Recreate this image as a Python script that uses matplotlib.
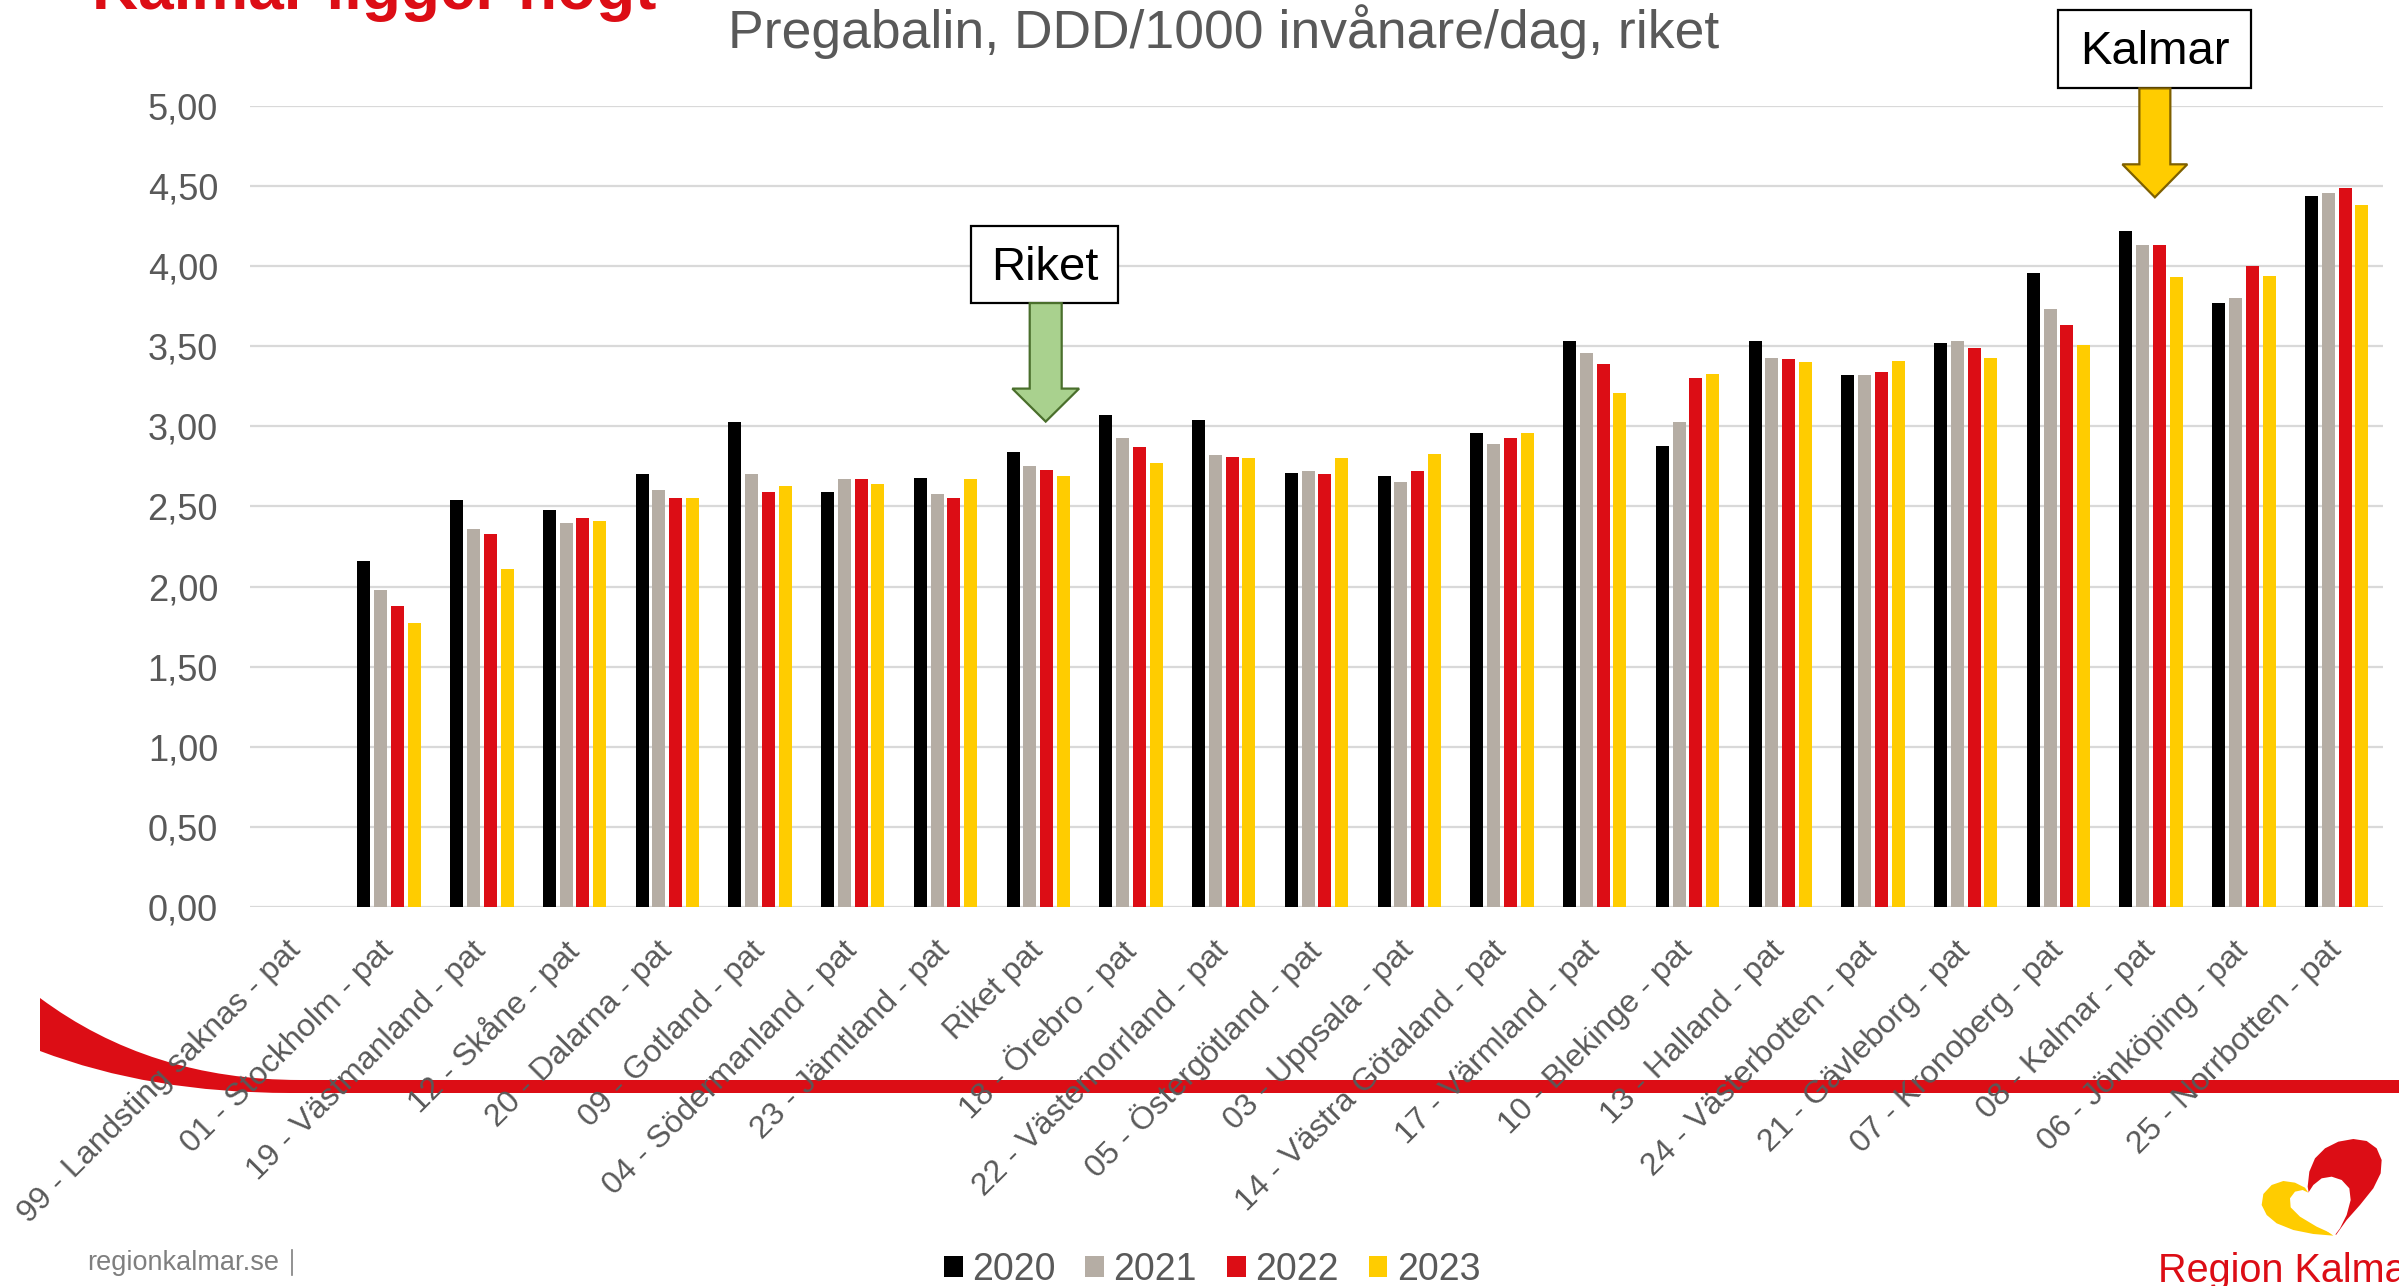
import numpy as np
import matplotlib
matplotlib.use("Agg")
import matplotlib.pyplot as plt
from matplotlib.patches import Rectangle, FancyArrow, PathPatch, Polygon
from matplotlib.path import Path
from matplotlib.lines import Line2D

plt.rcParams['font.family'] = ['Liberation Sans', 'DejaVu Sans']

# data
regions = ['99 - Landsting saknas - pat', '01 - Stockholm - pat', '19 - Västmanland - pat',
           '12 - Skåne - pat', '20 - Dalarna - pat', '09 - Gotland - pat',
           '04 - Södermanland - pat', '23 - Jämtland - pat', 'Riket pat',
           '18 - Örebro - pat', '22 - Västernorrland - pat', '05 - Östergötland - pat',
           '03 - Uppsala - pat', '14 - Västra Götaland - pat', '17 - Värmland - pat',
           '10 - Blekinge - pat', '13 - Halland - pat', '24 - Västerbotten - pat',
           '21 - Gävleborg - pat', '07 - Kronoberg - pat', '08 - Kalmar - pat',
           '06 - Jönköping - pat', '25 - Norrbotten - pat']
years = ['2020', '2021', '2022', '2023']
v2020 = [np.nan, 2.16, 2.54, 2.48, 2.70, 3.03, 2.59, 2.68, 2.84, 3.07, 3.04, 2.71,
         2.69, 2.96, 3.53, 2.88, 3.53, 3.32, 3.52, 3.96, 4.22, 3.77, 4.44]
v2021 = [np.nan, 1.98, 2.36, 2.40, 2.60, 2.70, 2.67, 2.58, 2.75, 2.93, 2.82, 2.72,
         2.65, 2.89, 3.46, 3.03, 3.43, 3.32, 3.53, 3.73, 4.13, 3.80, 4.46]
v2022 = [np.nan, 1.88, 2.33, 2.43, 2.55, 2.59, 2.67, 2.55, 2.73, 2.87, 2.81, 2.70,
         2.72, 2.93, 3.39, 3.30, 3.42, 3.34, 3.49, 3.63, 4.13, 4.00, 4.49]
v2023 = [np.nan, 1.77, 2.11, 2.41, 2.55, 2.63, 2.64, 2.67, 2.69, 2.77, 2.80, 2.80,
         2.83, 2.96, 3.21, 3.33, 3.40, 3.41, 3.43, 3.51, 3.93, 3.94, 4.38]
yticks = [0, 0.5, 1.0, 1.5, 2.0, 2.5, 3.0, 3.5, 4.0, 4.5, 5.0]

colors = ['#000000', '#B5ADA4', '#DC0D15', '#FFCC00']
series = [v2020, v2021, v2022, v2023]
gray_txt = '#595959'

W, H = 2399, 1286
fig = plt.figure(figsize=(W / 100, H / 100), dpi=100)


def fx(px):
    return px / W


def fy(py):
    return 1 - py / H


# red swoosh behind everything
swoosh = Path([(fx(40), fy(998)), (fx(150), fy(1080)), (fx(300), fy(1080)),
               (fx(W + 5), fy(1080)), (fx(W + 5), fy(1093)), (fx(290), fy(1093)),
               (fx(150), fy(1093)), (fx(40), fy(1051)), (fx(40), fy(998))],
              [Path.MOVETO, Path.CURVE3, Path.CURVE3, Path.LINETO, Path.LINETO,
               Path.LINETO, Path.CURVE3, Path.CURVE3, Path.CLOSEPOLY])
fig.patches.append(PathPatch(swoosh, transform=fig.transFigure, facecolor='#DC0D15',
                             edgecolor='none', zorder=-1))

ax = fig.add_axes([fx(250), fy(907), 2133 / W, 801 / H])
ax.patch.set_alpha(0)

x = np.arange(len(regions))
bw = 0.14
step = 0.181
for i, (vals, c, yr) in enumerate(zip(series, colors, years)):
    ax.bar(x + (i - 1.5) * step, vals, width=bw, color=c, label=yr, zorder=3)

ax.set_xlim(-0.5, len(regions) - 0.5)
ax.set_ylim(0, 5)
ax.set_yticks(yticks)
ax.set_yticklabels([f'{t:.2f}'.replace('.', ',') for t in yticks])
ax.grid(axis='y', color='#D9D9D9', linewidth=1.6, zorder=0)
ax.set_axisbelow(True)
for s in ax.spines.values():
    s.set_visible(False)
ax.tick_params(axis='y', length=0, pad=23, labelsize=26, labelcolor=gray_txt)
ax.tick_params(axis='x', length=0, pad=28, labelsize=23, labelcolor=gray_txt)
ax.set_xticks(x)
ax.set_xticklabels(regions, rotation=45, ha='right', va='center', rotation_mode='anchor')

# title texts
fig.text(fx(1224), fy(48), 'Pregabalin, DDD/1000 invånare/dag, riket', ha='center',
         va='baseline', fontsize=38.5, color=gray_txt)
fig.text(fx(92), fy(9), 'Kalmar ligger högt', ha='left', va='baseline', fontsize=46,
         fontweight='bold', color='#DC0D15')

# callouts
ax.add_patch(Rectangle((7.27, 3.77), 1.59, 0.48, facecolor='white', edgecolor='black',
                       linewidth=1.6, zorder=5, clip_on=False))
ax.text(8.07, 3.99, 'Riket', ha='center', va='center', fontsize=34, color='black', zorder=6)
ax.add_patch(FancyArrow(8.08, 3.77, 0, -0.74, width=0.345, head_width=0.72,
                        head_length=0.206, length_includes_head=True,
                        facecolor='#A9D18E', edgecolor='#4A6F2C', linewidth=1.6,
                        zorder=5, clip_on=False))

ax.add_patch(Rectangle((19.0, 5.11), 2.08, 0.49, facecolor='white', edgecolor='black',
                       linewidth=1.6, zorder=5, clip_on=False))
ax.text(20.04, 5.34, 'Kalmar', ha='center', va='center', fontsize=34, color='black', zorder=6)
ax.add_patch(FancyArrow(20.04, 5.11, 0, -0.68, width=0.334, head_width=0.70,
                        head_length=0.206, length_includes_head=True,
                        facecolor='#FFCC00', edgecolor='#7F6000', linewidth=1.6,
                        zorder=5, clip_on=False))

# legend
handles = [Rectangle((0, 0), 1, 1, facecolor=c, edgecolor='none') for c in colors]
fig.legend(handles, years, loc='center', bbox_to_anchor=(fx(1212), fy(1270)), ncol=4,
           frameon=False, fontsize=27, labelcolor=gray_txt, handlelength=0.5,
           handleheight=0.5, handletextpad=0.25, columnspacing=0.8, borderpad=0)

# footer
fig.text(fx(87), fy(1270), 'regionkalmar.se', ha='left', va='baseline', fontsize=19.5,
         color='#7F7F7F')
fig.add_artist(Line2D([fx(292), fx(292)], [fy(1250), fy(1275)], color='#7F7F7F',
                      linewidth=1.2, transform=fig.transFigure))


# logo
def logo_pts(pts):
    return [(fx(px / 3 + 2120), fy(py / 3 + 1120)) for px, py in pts]


yellow_pts = [(640, 347), (580, 342), (520, 330), (470, 310), (440, 285), (425, 255),
              (430, 222), (455, 195), (490, 183), (525, 188), (555, 203), (565, 218),
              (560, 270), (610, 325)]
red_pts = [(648, 345), (680, 300), (720, 255), (760, 205), (782, 160), (785, 120),
           (770, 85), (740, 63), (700, 57), (655, 65), (615, 85), (585, 115),
           (568, 155), (563, 200), (570, 240), (600, 290)]
white_pts = [(645, 345), (590, 320), (540, 290), (512, 262), (510, 235), (525, 215),
             (548, 210), (565, 218), (580, 195), (605, 175), (635, 170), (665, 180),
             (688, 205), (692, 240), (680, 285), (660, 325)]
for pts, c in [(yellow_pts, '#FFCC00'), (red_pts, '#DC0D15'), (white_pts, 'white')]:
    fig.patches.append(Polygon(logo_pts(pts), closed=True, transform=fig.transFigure,
                               facecolor=c, edgecolor='none'))
fig.text(fx(2158), fy(1282), 'Region Kalmar', ha='left', va='baseline', fontsize=28.5,
         color='#DC0D15')

fig.savefig('out.png', dpi=100)
